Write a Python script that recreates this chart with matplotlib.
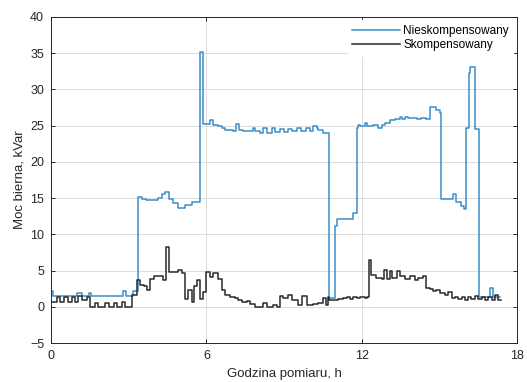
import matplotlib
matplotlib.use("Agg")
import matplotlib.pyplot as plt

# Moc bierna - odczyt ze schodkowego przebiegu (godzina zmiany, wartosc)
t_nieskomp = [0.0, 0.09, 1.0, 1.18, 1.48, 1.54, 2.79, 2.9, 3.15, 3.37, 3.5, 3.65,
              4.14, 4.27, 4.4, 4.57, 4.72, 4.92, 5.17, 5.43, 5.75, 5.88, 6.14, 6.27,
              6.46, 6.59, 6.72, 7.04, 7.14, 7.27, 7.43, 7.68, 7.81, 7.88, 8.07, 8.2,
              8.33, 8.52, 8.65, 8.85, 9.0, 9.15, 9.3, 9.5, 9.65, 9.85, 10.0, 10.13,
              10.26, 10.32, 10.52, 10.72, 10.95, 11.06, 11.67, 11.8, 11.86, 11.93,
              12.12, 12.19, 12.44, 12.64, 12.77, 12.9, 13.09, 13.28, 13.48, 13.54,
              13.67, 13.8, 14.12, 14.31, 14.5, 14.63, 14.89, 15.02, 15.08, 15.53,
              15.63, 15.85, 15.95, 16.02, 16.15, 16.2, 16.37, 16.55, 16.95, 17.08, 17.35]
q_nieskomp = [2.2, 1.5, 1.9, 1.5, 1.9, 1.5, 2.2, 1.5, 2.2, 15.2, 14.9, 14.7,
              15.0, 15.6, 15.9, 14.9, 14.3, 13.6, 14.0, 14.4, 35.2, 25.2, 25.8, 25.1,
              25.0, 24.6, 24.4, 24.2, 25.2, 24.4, 24.2, 24.3, 24.6, 24.2, 24.0, 24.6,
              24.0, 24.6, 24.1, 24.5, 24.1, 24.5, 24.2, 24.6, 24.3, 24.6, 24.2, 24.9,
              24.6, 24.4, 24.0, 1.2, 11.1, 12.1, 12.9, 24.6, 25.1, 24.9,
              25.3, 24.9, 25.1, 24.6, 25.1, 25.4, 25.7, 25.9, 26.2, 25.9,
              26.2, 26.0, 25.9, 26.1, 25.9, 27.5, 27.1, 26.7, 14.8, 15.6,
              14.4, 13.9, 13.5, 24.7, 32.2, 33.1, 24.5, 1.4, 2.6, 1.4, 1.4]

t_skomp = [0.0, 0.22, 0.35, 0.48, 0.67, 0.8, 0.93, 1.02, 1.18, 1.38, 1.5, 1.7,
           1.83, 2.1, 2.23, 2.42, 2.55, 2.73, 2.86, 3.11, 3.3, 3.44, 3.6, 3.72,
           3.82, 3.98, 4.2, 4.34, 4.44, 4.54, 4.92, 5.05, 5.17, 5.3, 5.43, 5.52,
           5.65, 5.75, 5.88, 6.0, 6.14, 6.27, 6.45, 6.6, 6.72, 6.91, 7.1, 7.23,
           7.36, 7.55, 7.68, 7.88, 8.2, 8.33, 8.58, 8.71, 8.84, 8.97, 9.16, 9.29,
           9.55, 9.68, 9.88, 10.13, 10.32, 10.52, 10.61, 10.68, 10.75, 11.09, 11.29,
           11.42, 11.55, 11.67, 11.8, 11.93, 12.12, 12.2, 12.28, 12.36, 12.57, 12.77,
           12.87, 12.96, 13.09, 13.18, 13.35, 13.48, 13.54, 13.67, 13.86, 14.05,
           14.18, 14.38, 14.5, 14.63, 14.76, 14.89, 15.02, 15.21, 15.34, 15.47,
           15.6, 15.73, 15.86, 15.98, 16.11, 16.24, 16.37, 16.5, 16.63, 16.76,
           16.89, 17.02, 17.14, 17.27, 17.38]
q_skomp = [0.6, 1.4, 0.6, 1.3, 0.7, 1.4, 0.7, 1.5, 0.9, 1.4, 0.0, 0.55,
           0.0, 0.55, 0.0, 0.55, 0.0, 0.7, 0.0, 1.6, 3.7, 3.0, 2.8, 2.3,
           3.9, 4.2, 4.3, 3.7, 8.2, 4.8, 5.1, 4.7, 1.1, 2.3, 0.7, 2.8,
           3.7, 1.1, 2.1, 4.8, 4.1, 4.6, 3.9, 2.3, 1.6, 1.3, 1.2, 0.9,
           0.6, 0.8, 0.4, 0.0, 0.5, 0.0, 0.2, 0.0, 1.45, 1.2, 1.6, 1.0,
           0.3, 1.5, 0.2, 0.45, 0.55, 1.2, 0.3, 1.3, 1.0, 1.1, 1.2,
           1.4, 1.1, 1.4, 1.2, 1.4, 1.2, 1.4, 6.5, 4.4, 3.95, 3.8,
           5.1, 3.8, 4.9, 4.0, 5.0, 4.3, 4.2, 3.9, 4.2, 3.7,
           4.0, 4.2, 2.6, 2.4, 2.2, 2.3, 1.9, 1.66, 2.0, 1.2,
           1.4, 1.1, 1.4, 1.0, 1.3, 1.1, 1.5, 1.1, 1.3, 1.0,
           1.4, 1.0, 1.6, 1.0, 1.0]

plt.rcParams['font.family'] = ['Liberation Sans', 'DejaVu Sans']

fig = plt.figure(figsize=(5.27, 3.82), dpi=100)
ax = fig.add_axes([0.097, 0.102, 0.884, 0.854])

ax.plot(t_nieskomp, q_nieskomp, drawstyle='steps-post', color='#3c8dc8', lw=1.1,
        label='Nieskompensowany')
ax.plot(t_skomp, q_skomp, drawstyle='steps-post', color='#2a2a2a', lw=1.1,
        label='Skompensowany')

ax.set_xlim(0, 18)
ax.set_ylim(-5, 40)
ax.set_xticks([0, 6, 12, 18])
ax.set_yticks(range(-5, 41, 5))
ax.grid(True, color='#dcdcdc', lw=0.7)
ax.set_axisbelow(True)
ax.tick_params(direction='in', length=3, width=0.7, top=True, right=True,
               labelsize=9, colors='#262626', pad=5)
for s in ax.spines.values():
    s.set_color('#262626')
    s.set_linewidth(0.7)

ax.set_xlabel('Godzina pomiaru, h', fontsize=9.5, color='#262626', labelpad=4)
ax.set_ylabel('Moc bierna, kVar', fontsize=9.5, color='#262626', labelpad=3)

leg = ax.legend(loc='upper right', fontsize=8.5, frameon=True, fancybox=False,
                edgecolor='white', framealpha=1, handlelength=4.0,
                borderaxespad=0.3, labelspacing=0.15, handletextpad=0.3)

fig.savefig('out.png', dpi=100)
